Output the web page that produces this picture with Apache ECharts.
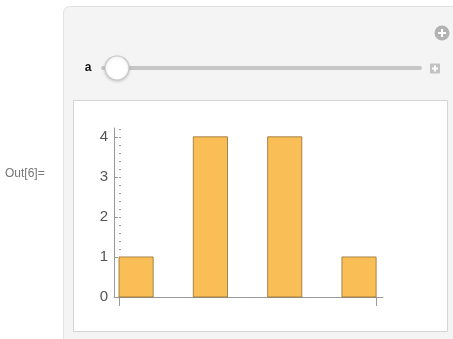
<!DOCTYPE html>
<html>
<head>
<meta charset="utf-8">
<script src="https://cdn.jsdelivr.net/npm/echarts@6/dist/echarts.min.js"></script>
<style>
  html, body { margin: 0; padding: 0; background: #ffffff; }
  #main { width: 453px; height: 339px; }
</style>
</head>
<body>
<div id="main"></div>
<script>
// Histogram bins: left edge, right edge, count
const binStart = [0, 2, 4, 6];
const binEnd = [0.92, 2.92, 4.92, 6.92];
const counts = [1, 4, 4, 1];

// Axis ticks
const yTickValues = [0, 1, 2, 3, 4];
const yMinorValues = [];
for (let v = 0; v <= 4.2 + 1e-9; v += 0.2) yMinorValues.push(+v.toFixed(2));
const xTickValues = [0, 6.92];

const axisGray = '#9a9a9a';
const font = '"Liberation Sans", Arial, Helvetica, sans-serif';

const chart = echarts.init(document.getElementById('main'), null, { renderer: 'canvas' });

const binData = binStart.map((s, i) => [s, binEnd[i], counts[i]]);

function plusIcon(cx, cy, half, color) {
  return [
    { type: 'line', z: -5, shape: { x1: cx - half, y1: cy, x2: cx + half, y2: cy }, style: { stroke: color, lineWidth: 2 } },
    { type: 'line', z: -5, shape: { x1: cx, y1: cy - half, x2: cx, y2: cy + half }, style: { stroke: color, lineWidth: 2 } }
  ];
}

chart.setOption({
  animation: false,
  graphic: [
    // Manipulate frame
    { type: 'rect', z: -20, shape: { x: 63.5, y: 6.5, width: 420, height: 360, r: 6 },
      style: { fill: '#f4f4f4', stroke: '#e2e2e2', lineWidth: 1 } },
    // Output pane
    { type: 'rect', z: -19, shape: { x: 73.5, y: 100.5, width: 374, height: 231 },
      style: { fill: '#ffffff', stroke: '#d4d4d4', lineWidth: 1 } },
    // Options button
    { type: 'circle', z: -6, shape: { cx: 442, cy: 33, r: 7.5 }, style: { fill: '#b3b3b3' } },
    ...plusIcon(442, 33, 4, '#ffffff'),
    // Slider track
    { type: 'rect', z: -6, shape: { x: 101, y: 66, width: 321, height: 4, r: 2 }, style: { fill: '#c6c6c6' } },
    // Slider thumb
    { type: 'circle', z: -5, shape: { cx: 117, cy: 68, r: 12 },
      style: { fill: '#ffffff', stroke: '#c9c9c9', lineWidth: 1.2,
               shadowBlur: 3, shadowColor: 'rgba(0,0,0,0.15)', shadowOffsetY: 1 } },
    // Animation controls toggle
    { type: 'rect', z: -6, shape: { x: 430, y: 63.5, width: 10, height: 10, r: 1 }, style: { fill: '#c2c2c2' } },
    ...plusIcon(435, 68.5, 3, '#ffffff'),
    // Control label
    { type: 'text', z: -5, x: 88, y: 68,
      style: { text: 'a', fill: '#111111', font: 'bold 12px ' + font, align: 'center', verticalAlign: 'middle' } },
    // Cell label
    { type: 'text', z: -5, x: 5, y: 174,
      style: { text: 'Out[6]=', fill: '#777777', font: '12px ' + font, align: 'left', verticalAlign: 'middle' } }
  ],
  grid: { left: 114, top: 128, width: 269, height: 169, containLabel: false },
  xAxis: {
    type: 'value',
    min: -0.135,
    max: 7.105,
    axisLine: { show: true, lineStyle: { color: axisGray, width: 1 } },
    axisTick: { show: true, inside: false, length: 9, customValues: xTickValues,
                lineStyle: { color: axisGray, width: 1 } },
    axisLabel: { show: false },
    splitLine: { show: false }
  },
  yAxis: [
    {
      type: 'value',
      min: 0,
      max: 4.22,
      axisLine: { show: true, onZero: false, lineStyle: { color: axisGray, width: 1 } },
      axisTick: { show: true, inside: true, length: 4, customValues: yTickValues,
                  lineStyle: { color: axisGray, width: 1 } },
      axisLabel: { show: true, customValues: yTickValues, margin: 6,
                   color: '#555555', fontSize: 15, fontFamily: font },
      splitLine: { show: false }
    },
    {
      type: 'value',
      min: 0,
      max: 4.22,
      position: 'left',
      axisLine: { show: false },
      axisTick: { show: true, inside: true, length: 2, customValues: yMinorValues,
                  lineStyle: { color: axisGray, width: 1 } },
      axisLabel: { show: false },
      splitLine: { show: false }
    }
  ],
  series: [{
    type: 'custom',
    xAxisIndex: 0,
    yAxisIndex: 0,
    data: binData,
    encode: { x: [0, 1], y: 2 },
    renderItem: function (params, api) {
      const p0 = api.coord([api.value(0), 0]);
      const p1 = api.coord([api.value(1), api.value(2)]);
      return {
        type: 'rect',
        shape: { x: p0[0], y: p1[1], width: p1[0] - p0[0], height: p0[1] - p1[1] },
        style: { fill: '#f9be55', stroke: '#8f6f35', lineWidth: 0.8 }
      };
    }
  }]
});
</script>
</body>
</html>
